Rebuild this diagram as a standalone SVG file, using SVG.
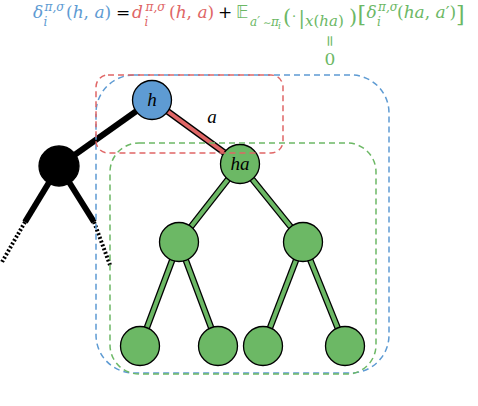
<svg xmlns="http://www.w3.org/2000/svg" width="478" height="406" viewBox="0 0 478 406">
<style>
.eq{font-family:"DejaVu Serif","Liberation Serif",serif;font-size:17px}
.it{font-style:italic}
.s{font-size:12px;font-style:italic}
.blue{fill:#5e9bd3}
.red{fill:#e06666}
.green{fill:#6cb865}
.blk{fill:#000}
.node{stroke:#000;stroke-width:1.3}
.gn{fill:#6cb865}
.lbl{font-family:"Liberation Serif","DejaVu Serif",serif;font-style:italic;font-size:19px;text-anchor:middle;fill:#000}
.edgeO{stroke:#000;stroke-width:6.5;stroke-linecap:butt;fill:none}
.edgeG{stroke:#6cb865;stroke-width:4;fill:none}
.edgeR{stroke:#e06666;stroke-width:4;fill:none}
.thick{stroke:#000;stroke-width:6;fill:none}
.dot{stroke:#000;stroke-width:4;stroke-dasharray:2 2;fill:none}
.box{fill:none;stroke-width:1.5;stroke-dasharray:6 4}
</style>

<g id="equation">
  <text class="eq"><tspan class="it blue" x="33" y="18">δ</tspan><tspan class="s blue" x="44.5" y="11">π,σ</tspan><tspan class="s blue" x="43.5" y="25.5">i</tspan><tspan class="blue" x="66" y="18">(<tspan class="it">h</tspan>, <tspan class="it">a</tspan>)</tspan><tspan class="blk" x="116" y="18">=</tspan><tspan class="it red" x="132" y="18">d</tspan><tspan class="s red" x="145.5" y="11">π,σ</tspan><tspan class="s red" x="144.5" y="25.5">i</tspan><tspan class="red" x="169" y="18">(<tspan class="it">h</tspan>, <tspan class="it">a</tspan>)</tspan><tspan class="blk" x="218" y="18">+</tspan><tspan class="green" x="236" y="18" style="font-family:'DejaVu Sans',sans-serif;font-size:17px">𝔼</tspan><tspan class="s green" x="250" y="26">a′</tspan><tspan class="green" x="263" y="26" style="font-size:10px">∼</tspan><tspan class="s green" x="271" y="26">π</tspan><tspan class="s green" x="278" y="29" style="font-size:9px">i</tspan><tspan class="green" x="283" y="24" style="font-size:21px">(</tspan><tspan class="green" x="292" y="21" style="font-size:13px">·</tspan><tspan class="green" x="298.5" y="23.5" style="font-size:19px">|</tspan><tspan class="green" x="305" y="26" style="font-size:15px"><tspan class="it">x</tspan>(<tspan class="it">ha</tspan>)</tspan><tspan class="green" x="349" y="24" style="font-size:21px">)</tspan><tspan class="green" x="357.5" y="22" style="font-size:22px">[</tspan><tspan class="it green" x="366.5" y="18">δ</tspan><tspan class="s green" x="378" y="11">π,σ</tspan><tspan class="s green" x="377" y="25.5">i</tspan><tspan class="green" x="397" y="18">(<tspan class="it">ha</tspan>, <tspan class="it">a</tspan>′)</tspan><tspan class="green" x="456" y="22" style="font-size:22px">]</tspan></text>
  <text class="eq green" x="0" y="0" style="font-size:15px" text-anchor="middle" transform="translate(330 41) rotate(90) translate(0 5)">=</text>
  <text class="eq green" x="330" y="65" text-anchor="middle" style="font-size:17px">0</text>
</g>

<g id="connectors">
  <line class="thick" x1="59" y1="166" x2="152" y2="100"/>
  <line class="thick" x1="59" y1="166" x2="25" y2="222"/>
  <line class="thick" x1="59" y1="166" x2="94" y2="222"/>
  <line class="dot" x1="25" y1="222" x2="2" y2="262"/>
  <line class="dot" x1="94" y1="222" x2="110" y2="265"/>
  <line class="edgeO" x1="152" y1="100" x2="240" y2="164"/>
  <line class="edgeR" x1="152" y1="100" x2="240" y2="164"/>
  <line class="edgeO" x1="240" y1="164" x2="179" y2="242"/>
  <line class="edgeG" x1="240" y1="164" x2="179" y2="242"/>
  <line class="edgeO" x1="240" y1="164" x2="303" y2="242"/>
  <line class="edgeG" x1="240" y1="164" x2="303" y2="242"/>
  <line class="edgeO" x1="179" y1="242" x2="140" y2="346"/>
  <line class="edgeG" x1="179" y1="242" x2="140" y2="346"/>
  <line class="edgeO" x1="179" y1="242" x2="218" y2="346"/>
  <line class="edgeG" x1="179" y1="242" x2="218" y2="346"/>
  <line class="edgeO" x1="303" y1="242" x2="263" y2="346"/>
  <line class="edgeG" x1="303" y1="242" x2="263" y2="346"/>
  <line class="edgeO" x1="303" y1="242" x2="345" y2="346"/>
  <line class="edgeG" x1="303" y1="242" x2="345" y2="346"/>
  <text class="lbl" x="212" y="123">a</text>
</g>

<g id="node-black"><circle class="node" cx="59" cy="166" r="20" fill="#000"/></g>
<g id="node-h"><circle class="node" cx="152" cy="100" r="19.5" fill="#5e9bd3"/><text class="lbl" x="152" y="106">h</text></g>
<g id="node-ha"><circle class="node gn" cx="240" cy="164" r="19.5"/><text class="lbl" x="240" y="170">ha</text></g>
<g id="node-m1"><circle class="node gn" cx="179" cy="242" r="19.5"/></g>
<g id="node-m2"><circle class="node gn" cx="303" cy="242" r="19.5"/></g>
<g id="node-l1"><circle class="node gn" cx="140" cy="346" r="19.5"/></g>
<g id="node-l2"><circle class="node gn" cx="218" cy="346" r="19.5"/></g>
<g id="node-l3"><circle class="node gn" cx="263" cy="346" r="19.5"/></g>
<g id="node-l4"><circle class="node gn" cx="345" cy="346" r="19.5"/></g>

<g id="regions">
  <rect class="box" x="96" y="75" width="293" height="298" rx="38" stroke="#5e9bd3"/>
  <rect class="box" x="110" y="143" width="266" height="231" rx="29" stroke="#6cb865"/>
  <rect class="box" x="96" y="75" width="187" height="78" rx="12" stroke="#e06666"/>
</g>
</svg>
